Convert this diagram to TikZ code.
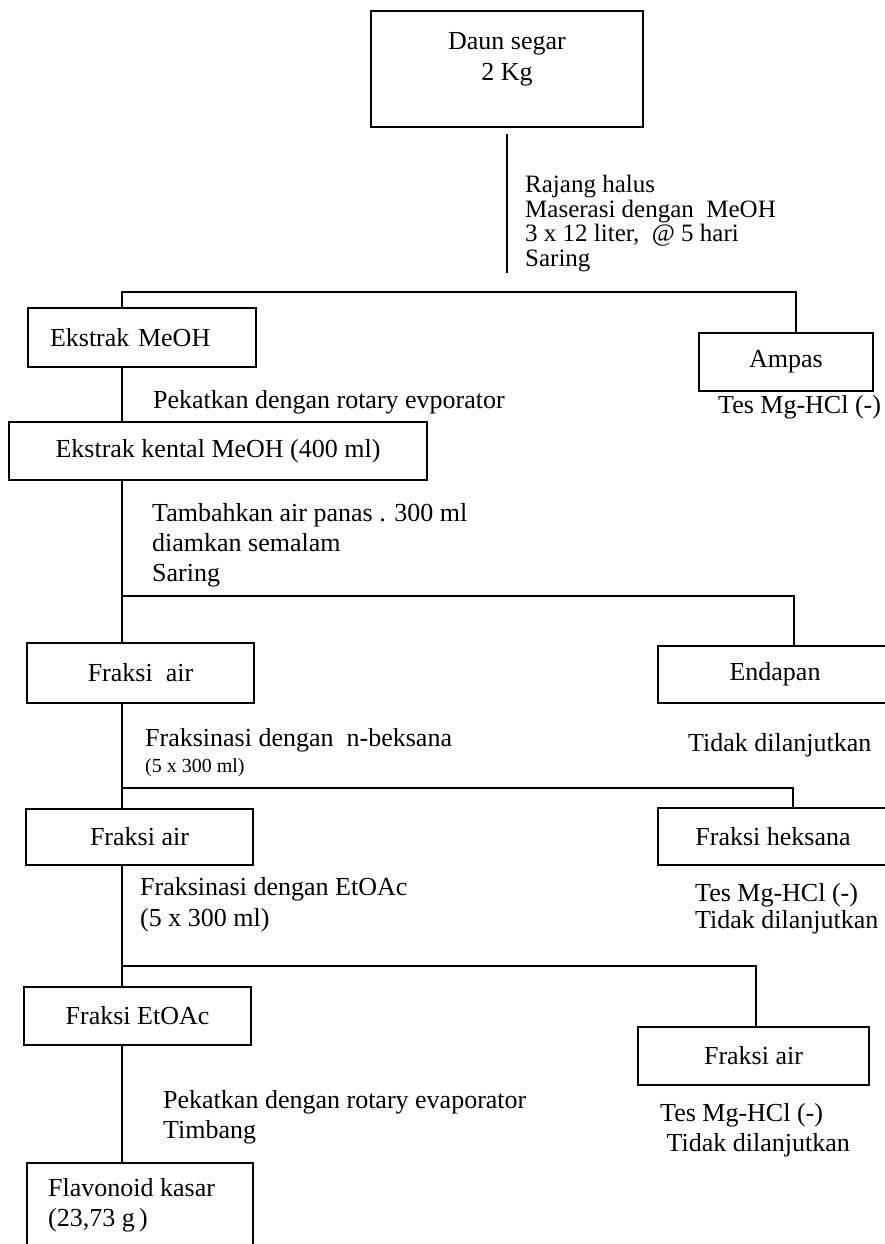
\documentclass[tikz,border=0pt]{standalone}
\usepackage{fontspec}
\setmainfont{Liberation Serif}
\usepackage{tikz}
\usetikzlibrary{calc}
\tikzset{
  box/.style={draw, line width=1.3pt, inner sep=0pt, font=\fontsize{26}{23}\selectfont},
  link/.style={line width=1.1pt},
  txt/.style={inner sep=0pt, anchor=north west, align=left, font=\fontsize{26}{23.3}\selectfont},
  smalltxt/.style={inner sep=0pt, anchor=north west, align=left, font=\fontsize{20}{20}\selectfont}
}
\begin{document}
\begin{tikzpicture}[x=1pt,y=-1pt]
    \clip (0,0) rectangle (885,1244);
    \fill[white] (0,0) rectangle (885,1244);
    % boxes
    \node[box, minimum width=272pt, minimum height=116pt] (daun) at (507,69) {};
    \node[txt, anchor=north, align=center, font=\fontsize{26}{31}\selectfont] (dauntxt) at (507,32) {Daun segar\\2 Kg};
    \node[box, align=left, text width=184pt, inner xsep=22pt, minimum height=59pt] (ekstrak) at (142,337.5) {Ekstrak MeOH};
    \node[box, minimum width=174pt, minimum height=58pt] (ampas) at (786,362) {Ampas};
    \node[box, minimum width=418pt, minimum height=58pt] (kental) at (218,451) {Ekstrak kental MeOH (400 ml)};
    \node[box, minimum width=227pt, minimum height=60pt] (air1) at (140.5,673) {Fraksi~ air};
    \node[box, minimum width=234pt, minimum height=57pt] (endapan) at (775,674.5) {Endapan};
    \node[box, minimum width=227pt, minimum height=56pt] (air2) at (139.5,837) {Fraksi air};
    \node[box, minimum width=230pt, minimum height=57pt] (heksana) at (773,836.5) {Fraksi heksana};
    \node[box, minimum width=227pt, minimum height=58pt] (etoac) at (137.5,1016) {Fraksi EtOAc};
    \node[box, minimum width=231pt, minimum height=58pt] (airR) at (753.5,1056) {Fraksi air};
    \node[box, minimum width=226pt, minimum height=97pt] (flavo) at (140,1211.5) {};
    \node[txt, font=\fontsize{26}{30}\selectfont] (flavotxt) at (48,1178) {Flavonoid kasar\\(23,73 g\,)};
    % steps
    \node[txt, font=\fontsize{25}{24.5}\selectfont] (step1) at (525,175) {Rajang halus\\Maserasi dengan~ MeOH\\3 x 12 liter,~ @ 5 hari\\Saring};
    \node[txt] (step2) at (153,390) {Pekatkan dengan rotary evporator};
    \node[txt] (tes1) at (718,395) {Tes Mg-HCl (-)};
    \node[txt, font=\fontsize{26}{30}\selectfont] (step3) at (152,503) {Tambahkan air panas . 300 ml\\diamkan semalam\\Saring};
    \node[txt] (step4) at (145,728) {Fraksinasi dengan~ n-beksana};
    \node[smalltxt] (step4b) at (145,758) {(5 x 300 ml)};
    \node[txt] (tidak1) at (688,733) {Tidak dilanjutkan};
    \node[txt, font=\fontsize{26}{27}\selectfont] (tes2) at (695,883) {Tes Mg-HCl (-)\\Tidak dilanjutkan};
    \node[txt, font=\fontsize{26}{31}\selectfont] (step5) at (140,877) {Fraksinasi dengan EtOAc\\(5 x 300 ml)};
    \node[txt, font=\fontsize{26}{30}\selectfont] (step6) at (163,1090) {Pekatkan dengan rotary evaporator\\Timbang};
    \node[txt, font=\fontsize{26}{30}\selectfont] (tes3) at (660,1103) {Tes Mg-HCl (-)\\~Tidak dilanjutkan};
    % connectors
    \coordinate (spine) at (122,0);
    \coordinate (j1) at (796,292);
    \coordinate (j2) at (794,596);
    \coordinate (j3) at (793,788);
    \coordinate (j4) at (756,966);
    \draw[link, shorten <=6pt, shorten >=19pt] (daun.south) -- (daun.south |- j1);
    \draw[link] (ekstrak.north -| spine) |- (j1) -- (j1 |- ampas.north);
    \draw[link] (ekstrak.south -| spine) -- (kental.north -| spine);
    \draw[link] (kental.south -| spine) -- (air1.north -| spine);
    \draw[link] (j2 -| spine) -- (j2) -- (j2 |- endapan.north);
    \draw[link] (air1.south -| spine) -- (air2.north -| spine);
    \draw[link] (j3 -| spine) -- (j3) -- (j3 |- heksana.north);
    \draw[link] (air2.south -| spine) -- (etoac.north -| spine);
    \draw[link] (j4 -| spine) -- (j4) -- (j4 |- airR.north);
    \draw[link] (etoac.south -| spine) -- (flavo.north -| spine);
\end{tikzpicture}
\end{document}
